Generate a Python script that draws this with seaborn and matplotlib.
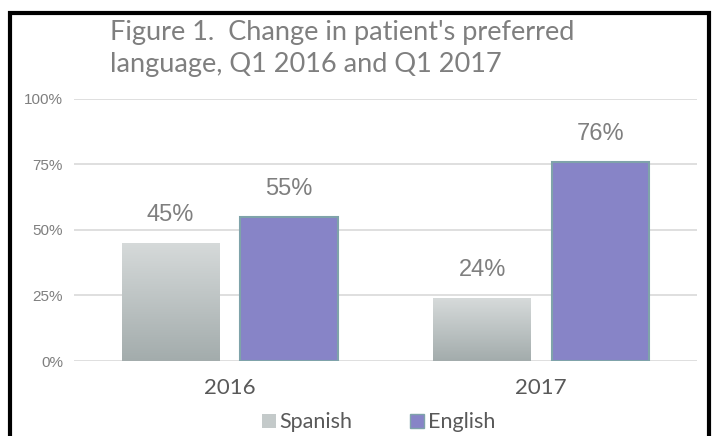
import pandas as pd
import matplotlib.pyplot as plt
import numpy as np
import seaborn as sns
from matplotlib.patches import Rectangle, Patch

# Data
years = ['2016', '2017']
spanish = [45, 24]
english = [55, 76]
languages = ['Spanish', 'English']

df = pd.DataFrame({
    'Year': years * 2,
    'Percent': spanish + english,
    'Language': ['Spanish'] * len(years) + ['English'] * len(years),
})

sns.set_style('white')
title_font = ['Lato', 'DejaVu Sans']
num_font = ['Liberation Sans', 'DejaVu Sans']
gray = '#7f7f7f'

fig = plt.figure(figsize=(7.13, 4.36), dpi=100)
ax = fig.add_axes([0.1038, 0.172, 0.8738, 0.602])

colors = {'Spanish': '#c8cdcd', 'English': '#8784c7'}
sns.barplot(data=df, x='Year', y='Percent', hue='Language', palette=colors,
            width=0.76, gap=0.174, saturation=1, ax=ax, legend=False)

# gradient for the Spanish bars, plain edge for the English bars
grad = np.linspace(0, 1, 100).reshape(-1, 1)
cmap = plt.matplotlib.colors.LinearSegmentedColormap.from_list('sp', ['#a3acac', '#d6dada'])
for bar in ax.containers[0]:
    x0, y0 = bar.get_x(), bar.get_y()
    w, h = bar.get_width(), bar.get_height()
    bar.set_facecolor('none')
    bar.set_edgecolor('none')
    im = ax.imshow(grad, extent=[x0, x0 + w, y0, y0 + h], origin='lower',
                   cmap=cmap, aspect='auto', zorder=2)
    im.set_clip_path(bar)
for bar in ax.containers[1]:
    bar.set_edgecolor('#7fa3aa')
    bar.set_linewidth(1.5)
    bar.set_zorder(3)

for cont in ax.containers:
    ax.bar_label(cont, fmt='%d%%', padding=12, fontsize=17, color=gray,
                 family=num_font)

ax.set_xlim(-0.5, 1.5)
ax.set_ylim(0, 100)
ax.set_yticks([0, 25, 50, 75, 100])
ax.set_yticklabels(['0%', '25%', '50%', '75%', '100%'], family=num_font,
                   fontsize=11, color=gray)
ax.set_xticks(range(len(years)))
ax.set_xticklabels(years, family=title_font, fontsize=16, color='#595959')
ax.tick_params(axis='both', length=0, pad=8)
ax.tick_params(axis='x', pad=12)
ax.yaxis.grid(True, color='#d9d9d9', linewidth=1.2)
ax.set_axisbelow(True)
for s in ax.spines.values():
    s.set_visible(False)
ax.set_xlabel('')
ax.set_ylabel('')

fig.text(110 / 713, 1 - 40 / 436, "Figure 1.  Change in patient's preferred",
         family=title_font, fontsize=19.5, color=gray, ha='left', va='baseline')
fig.text(110 / 713, 1 - 72 / 436, "language, Q1 2016 and Q1 2017",
         family=title_font, fontsize=19.5, color=gray, ha='left', va='baseline')

handles = [Patch(facecolor='#c4caca', edgecolor='none'),
           Patch(facecolor='#8784c7', edgecolor='#7fa3aa')]
fig.legend(handles, languages, loc='center', bbox_to_anchor=(0.531, 0.031),
           ncol=2, frameon=False, handlelength=0.65, handleheight=0.65,
           handletextpad=0.15, columnspacing=2.7,
           prop={'family': title_font, 'size': 15.5}, labelcolor='#595959')

# black frame around the chart
fig.patches.append(Rectangle((0.0145, -0.05), 0.98, 1.02, transform=fig.transFigure,
                             fill=False, edgecolor='black', linewidth=3))

fig.savefig('out.png', dpi=100)
